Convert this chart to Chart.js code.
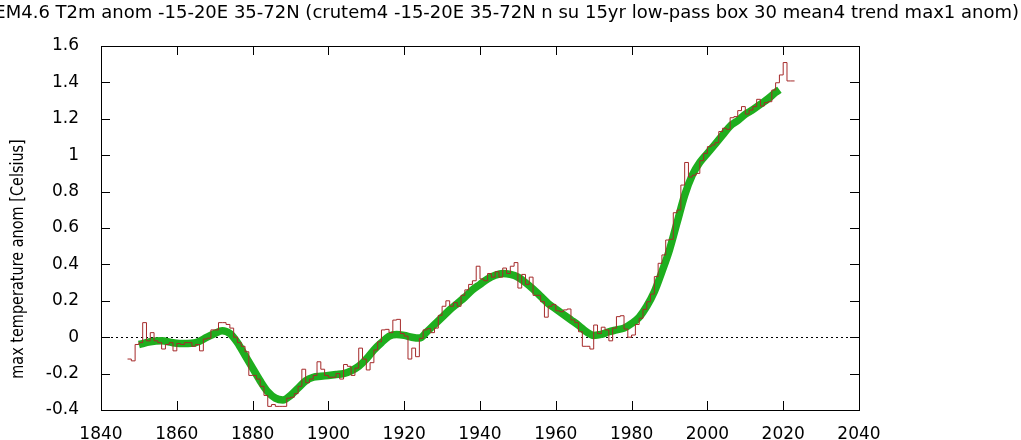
<!DOCTYPE html>
<html>
<head>
<meta charset="utf-8">
<script src="https://cdn.jsdelivr.net/npm/chart.js@4.4.1/dist/chart.umd.min.js"></script>
<style>
  html, body { margin: 0; padding: 0; background: #fff; }
</style>
</head>
<body>
<canvas id="myChart" width="1021" height="440"></canvas>
<script>
'use strict';

// *Data* - annual anomalies (red steps) and the smoothed curve (green)
let firstYear = 1847;
let annualValues = [
  -0.12, -0.12, -0.13, -0.04, -0.03, 0.08, -0.02, 0.025, -0.02, -0.03,      // 1847-1856
  -0.065, -0.04, -0.03, -0.075, -0.035, -0.04, -0.03, -0.03, -0.05, -0.04,  // 1857-1866
  -0.075, -0.01, -0.005, 0.04, 0.04, 0.08, 0.08, 0.07, 0.05, 0.0,           // 1867-1876
  -0.03, -0.05, -0.08, -0.21, -0.21, -0.23, -0.27, -0.32, -0.38, -0.37,     // 1877-1886
  -0.38, -0.38, -0.38, -0.335, -0.33, -0.31, -0.27, -0.176, -0.25, -0.23,   // 1887-1896
  -0.21, -0.135, -0.176, -0.21, -0.22, -0.22, -0.2, -0.23, -0.15, -0.16,    // 1897-1906
  -0.21, -0.17, -0.06, -0.12, -0.18, -0.14, -0.07, -0.025, 0.04, 0.043,     // 1907-1916
  0.025, 0.094, 0.098, 0.02, 0.006, -0.12, -0.06, -0.107, -0.006, 0.04,     // 1917-1926
  0.047, 0.025, 0.05, 0.12, 0.17, 0.2, 0.17, 0.19, 0.17, 0.23,              // 1927-1936
  0.26, 0.29, 0.31, 0.39, 0.32, 0.31, 0.35, 0.33, 0.36, 0.33,               // 1937-1946
  0.38, 0.35, 0.39, 0.41, 0.27, 0.345, 0.29, 0.33, 0.23, 0.23,              // 1947-1956
  0.195, 0.11, 0.17, 0.18, 0.145, 0.14, 0.15, 0.155, 0.095, 0.08,           // 1957-1966
  0.03, -0.05, -0.05, -0.065, 0.067, 0.02, 0.055, 0.04, -0.02, 0.05,        // 1967-1976
  0.113, 0.118, 0.045, 0.0, 0.012, 0.07, 0.104, 0.153, 0.195, 0.237,        // 1977-1986
  0.333, 0.406, 0.452, 0.534, 0.538, 0.684, 0.699, 0.836, 0.96, 0.88,       // 1987-1996
  0.89, 0.9, 0.97, 1.01, 1.047, 1.056, 1.069, 1.13, 1.148, 1.142,           // 1997-2006
  1.206, 1.212, 1.245, 1.267, 1.226, 1.248, 1.267, 1.307, 1.27, 1.289,      // 2007-2016
  1.294, 1.358, 1.398, 1.441, 1.509, 1.408                                  // 2017-2022
];

let smoothYears = [
  1850, 1853, 1856, 1859, 1862, 1865, 1868, 1870, 1872, 1874, 1876, 1878,
  1880, 1882, 1884, 1886, 1888, 1890, 1892, 1894, 1896, 1898, 1900, 1902,
  1904, 1906, 1908, 1910, 1912, 1914, 1916, 1918, 1920, 1922, 1924, 1926,
  1928, 1930, 1932, 1934, 1936, 1938, 1940, 1942, 1944, 1946, 1948, 1950,
  1952, 1954, 1956, 1958, 1960, 1962, 1964, 1966, 1968, 1970, 1972, 1974,
  1976, 1978, 1980, 1982, 1984, 1986, 1988, 1990, 1992, 1994, 1996, 1998,
  2000, 2002, 2004, 2006, 2008, 2010, 2012, 2014, 2016, 2018, 2019
];
let smoothValues = [
  -0.04, -0.025, -0.02, -0.03, -0.035, -0.03, 0.0, 0.02, 0.035, 0.02, -0.03, -0.1,
  -0.17, -0.24, -0.3, -0.335, -0.345, -0.32, -0.28, -0.24, -0.22, -0.215, -0.21, -0.205,
  -0.2, -0.185, -0.16, -0.12, -0.07, -0.03, 0.005, 0.015, 0.01, 0.0, -0.005, 0.03,
  0.07, 0.11, 0.15, 0.185, 0.22, 0.26, 0.29, 0.32, 0.34, 0.35, 0.345, 0.33,
  0.3, 0.265, 0.225, 0.185, 0.155, 0.125, 0.095, 0.065, 0.03, 0.01, 0.015, 0.03,
  0.04, 0.05, 0.075, 0.11, 0.17, 0.25, 0.36, 0.48, 0.63, 0.78, 0.89, 0.96,
  1.01, 1.06, 1.11, 1.16, 1.19, 1.225, 1.25, 1.28, 1.31, 1.345, 1.36
];

// *Axis ticks*
let xTicks = [1840, 1860, 1880, 1900, 1920, 1940, 1960, 1980, 2000, 2020, 2040];
let yTicks = [-0.4, -0.2, 0, 0.2, 0.4, 0.6, 0.8, 1, 1.2, 1.4, 1.6];

let titleText = 'EM4.6 T2m anom -15-20E 35-72N (crutem4 -15-20E 35-72N n su 15yr low-pass box 30 mean4 trend max1 anom)';
let yLabel = 'max temperature anom [Celsius]';

const fontFamily = '"DejaVu Sans", sans-serif';
const fontSize = 17;

// step data: each year spans [year, year+1], so close the last step
let stepPoints = annualValues.map((v, i) => ({ x: firstYear + i, y: v }));
stepPoints.push({ x: firstYear + annualValues.length, y: annualValues[annualValues.length - 1] });

let smoothPoints = smoothYears.map((yr, i) => ({ x: yr, y: smoothValues[i] }));

// *Plugin* - gnuplot style frame, inward ticks, zero line, title, y label
const tickLen = 9;
const gnuFrame = {
  id: 'gnuFrame',
  beforeDatasetsDraw(chart) {
    const { ctx, chartArea: a, scales: { y } } = chart;
    const zy = Math.round(y.getPixelForValue(0)) + 0.5;
    ctx.save();
    ctx.strokeStyle = '#000';
    ctx.lineWidth = 1;
    ctx.setLineDash([2, 3]);
    ctx.beginPath();
    ctx.moveTo(a.left, zy);
    ctx.lineTo(a.right, zy);
    ctx.stroke();
    ctx.restore();
  },
  afterDatasetsDraw(chart) {
    const { ctx, chartArea: a, scales: { x, y } } = chart;
    ctx.save();
    ctx.strokeStyle = '#000';
    ctx.lineWidth = 1;
    ctx.strokeRect(a.left + 0.5, a.top + 0.5, a.right - a.left, a.bottom - a.top);
    ctx.beginPath();
    xTicks.forEach(v => {
      const px = Math.round(x.getPixelForValue(v)) + 0.5;
      ctx.moveTo(px, a.bottom); ctx.lineTo(px, a.bottom - tickLen);
      ctx.moveTo(px, a.top); ctx.lineTo(px, a.top + tickLen);
    });
    yTicks.forEach(v => {
      const py = Math.round(y.getPixelForValue(v)) + 0.5;
      ctx.moveTo(a.left, py); ctx.lineTo(a.left + tickLen, py);
      ctx.moveTo(a.right, py); ctx.lineTo(a.right - tickLen, py);
    });
    ctx.stroke();

    ctx.fillStyle = '#000';
    ctx.textBaseline = 'middle';

    // title, cut off at the left like the source picture
    ctx.font = '18px ' + fontFamily;
    ctx.textAlign = 'right';
    ctx.fillText(titleText, 1019, 13);

    // rotated y label (narrow, as in the source)
    ctx.font = fontSize + 'px ' + fontFamily;
    ctx.textAlign = 'center';
    ctx.translate(19, 259);
    ctx.rotate(-Math.PI / 2);
    ctx.scale(0.85, 1);
    ctx.fillText(yLabel, 0, 0);
    ctx.restore();
  }
};

const ctx = document.getElementById('myChart');

new Chart(ctx, {
  type: 'line',
  data: {
    datasets: [{
      label: 'annual',
      data: stepPoints,
      stepped: 'after',
      borderColor: '#a52a2a',
      borderWidth: 1,
      pointRadius: 0,
      fill: false,
      order: 0
    },
    {
      label: 'smoothed',
      data: smoothPoints,
      borderColor: '#1eae1e',
      borderWidth: 7.5,
      pointRadius: 0,
      cubicInterpolationMode: 'monotone',
      fill: false,
      order: 1
    }]
  },
  options: {
    responsive: false,
    animation: false,
    events: [],
    layout: { padding: { left: 0, right: 162, top: 46, bottom: 0 } },
    plugins: {
      legend: { display: false },
      tooltip: { enabled: false },
      title: { display: false }
    },
    scales: {
      x: {
        type: 'linear',
        min: 1840,
        max: 2040,
        afterBuildTicks: s => { s.ticks = xTicks.map(v => ({ value: v })); },
        afterFit: s => { s.height = 30; },
        ticks: {
          callback: v => String(v),
          color: '#000',
          font: { family: fontFamily, size: fontSize },
          padding: 6,
          maxRotation: 0,
          autoSkip: false
        },
        grid: { display: false },
        border: { display: false }
      },
      y: {
        type: 'linear',
        min: -0.4,
        max: 1.6,
        afterBuildTicks: s => { s.ticks = yTicks.map(v => ({ value: v })); },
        afterFit: s => { s.width = 101; },
        ticks: {
          callback: v => String(Number(v.toFixed(1))),
          color: '#000',
          font: { family: fontFamily, size: fontSize },
          padding: 14,
          autoSkip: false
        },
        grid: { display: false },
        border: { display: false }
      }
    }
  },
  plugins: [gnuFrame]
});
</script>
</body>
</html>
